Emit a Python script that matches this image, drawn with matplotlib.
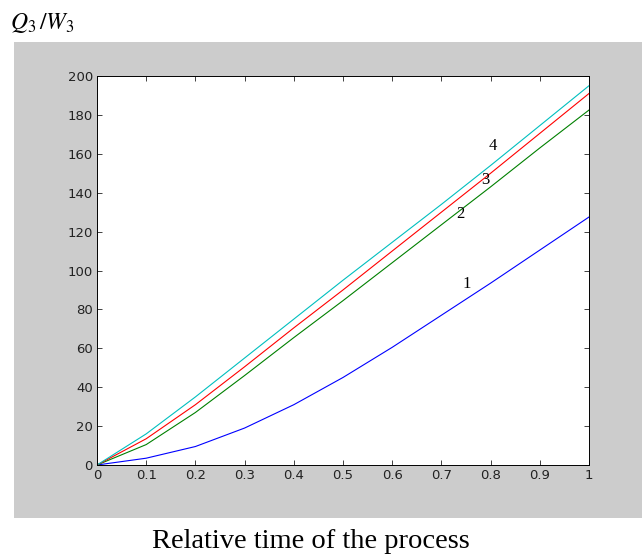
import matplotlib
matplotlib.use("Agg")
import matplotlib.pyplot as plt
from matplotlib.patches import Rectangle

# relative time and Q3/W3 for the four cases
t = [0, 0.1, 0.2, 0.3, 0.4, 0.5, 0.6, 0.7, 0.8, 0.9, 1.0]
q1 = [0, 3.5, 9.5, 19, 31, 45, 60.5, 77, 93.5, 110.5, 127.5]
q2 = [0, 10.5, 27, 46, 65.5, 84.5, 104, 123.5, 143, 163, 182.5]
q3 = [0, 13.5, 31, 50.5, 70.5, 90, 110, 130, 150, 170.5, 191]
q4 = [0, 16, 35, 55, 75, 95, 114.5, 134, 154, 174.5, 195]

curves = [q1, q2, q3, q4]
colors = ['#0000ff', '#008000', '#ff0000', '#00bfbf']
labels = ['1', '2', '3', '4']
label_pos = [(0.752, 93), (0.738, 129), (0.789, 146.5), (0.805, 164)]

xticks = [0, 0.1, 0.2, 0.3, 0.4, 0.5, 0.6, 0.7, 0.8, 0.9, 1]
xticklabels = ['0', '0.1', '0.2', '0.3', '0.4', '0.5', '0.6', '0.7', '0.8', '0.9', '1']
yticks = list(range(0, 201, 20))

plt.rcParams['mathtext.fontset'] = 'stix'
fig = plt.figure(figsize=(6.42, 5.54), dpi=100)

# grey frame behind the axes
W, H = 642.0, 554.0
fig.add_artist(Rectangle((14 / W, 1 - 518 / H), 1 - 14 / W, (518 - 42) / H,
                         transform=fig.transFigure, facecolor='#cccccc',
                         edgecolor='none', zorder=-1))

ax = fig.add_axes([97 / W, 1 - 465 / H, 492 / W, 389 / H])
ax.set_facecolor('white')
ax.set_zorder(1)

for q, c in zip(curves, colors):
    ax.plot(t, q, color=c, linewidth=0.8)

for lab, (lx, ly) in zip(labels, label_pos):
    ax.text(lx, ly, lab, family='Liberation Serif', fontsize=12,
            ha='center', va='center', color='black')

ax.set_xlim(0, 1)
ax.set_ylim(0, 200)
ax.set_xticks(xticks)
ax.set_xticklabels(xticklabels)
ax.set_yticks(yticks)
ax.tick_params(direction='in', top=True, right=True, length=3.5, width=0.6,
               labelsize=9.5, colors='#222222', pad=3)
for s in ax.spines.values():
    s.set_linewidth(0.7)

# axis titles as in the original figure
fig.text(10 / W, 1 - 29 / H, r'$Q_3\,/W_3$', fontsize=17, ha='left', va='baseline')
fig.text(311 / W, 1 - 541 / H, 'Relative time of the process',
         family='Liberation Serif', fontsize=20.5, ha='center', va='center')

fig.savefig('out.png', dpi=100)
